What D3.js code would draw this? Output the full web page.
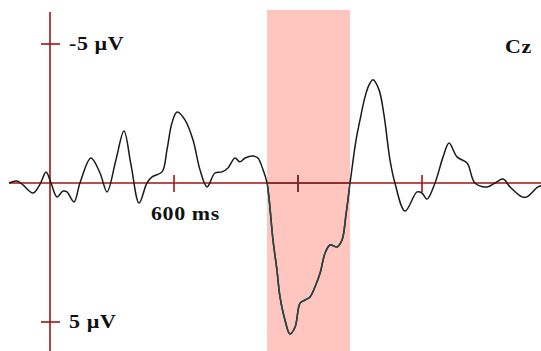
<!DOCTYPE html>
<html>
<head>
<meta charset="utf-8">
<script src="https://cdn.jsdelivr.net/npm/d3@7"></script>
<style>
  body { margin: 0; background: #fff; }
  text { font-family: "Liberation Serif", "Times New Roman", serif; font-weight: bold; fill: #111; letter-spacing: 0.5px; }
</style>
</head>
<body>
<svg id="erp"></svg>
<script>
// ERP waveform at Cz, time in ms, amplitude in microvolts (negative up)
var times = [-198, -160, -131, -82, -48, -19, 5, 34, 63, 82, 116, 145, 198, 242, 276, 319, 358, 392, 431, 469,
    494, 542, 566, 590, 615, 653, 692, 726, 760, 798, 832, 861, 895, 919, 944, 982, 1006, 1031, 1050, 1079,
    1098, 1113, 1137, 1161, 1186, 1210, 1234, 1258, 1282, 1307, 1331, 1355, 1389, 1413, 1432, 1452, 1481, 1500, 1524, 1544,
    1563, 1592, 1616, 1645, 1669, 1718, 1776, 1800, 1824, 1863, 1902, 1931, 1969, 2018, 2056, 2115, 2153, 2192, 2226, 2284,
    2308, 2361, 2376]
var amplitude = [0, -0.07, 0.07, 0.36, 0.04, -0.40, 0, 0.50, 0.29, 0.32, 0.68, 0, -0.90, -0.36, 0.32, -0.83, -1.87, -0.65, 0.72, 0,
    -0.22, -0.40, -1.19, -2.16, -2.55, -2.27, -1.55, -0.47, 0.14, -0.36, -0.40, -0.54, -0.90, -0.76, -0.90, -0.97, -0.90, -0.47, 0, 2.05,
    3.13, 4.10, 4.93, 5.43, 5.18, 4.32, 4.21, 4.10, 3.74, 3.24, 2.52, 2.23, 2.30, 2.05, 1.15, 0, -1.55, -2.27, -3.09, -3.53,
    -3.71, -3.35, -2.45, -0.83, 0, 1.01, 0.32, 0.36, 0.58, 0, -0.94, -1.44, -0.94, -0.72, 0, 0.14, 0, -0.14, 0.14, 0.50,
    0.50, 0.14, 0.11]

var timeTicks = [600, 1200, 1800]
var voltTicks = [-5, 5]
var voltLabels = ["-5 \u00b5V", "5 \u00b5V"]
var timeLabel = "600 ms"
var channel = "Cz"
var window_ms = [1050, 1452]

var dimensions = {
    width: 541,
    height: 351
}

var data = times.map(function (t, i) { return { t: t, v: amplitude[i] } })

var svg = d3.select("#erp")
    .attr("width", dimensions.width)
    .attr("height", dimensions.height)

var xScale = d3.scaleLinear()
    .domain([0, 600])
    .range([50, 174])

var yScale = d3.scaleLinear()
    .domain([-5, 5])
    .range([44, 322])

var axisColor = "#a01414"

// shaded time window
svg.append("rect")
    .attr("x", xScale(window_ms[0]))
    .attr("y", 10)
    .attr("width", xScale(window_ms[1]) - xScale(window_ms[0]))
    .attr("height", dimensions.height - 10)
    .attr("fill", "#ffc6c0")

svg.append("clipPath")
    .attr("id", "win")
    .append("rect")
    .attr("x", xScale(window_ms[0]))
    .attr("y", 10)
    .attr("width", xScale(window_ms[1]) - xScale(window_ms[0]))
    .attr("height", dimensions.height - 10)

// axes
function drawAxes(g, color) {
    g.append("line")
        .attr("x1", 9).attr("x2", dimensions.width)
        .attr("y1", yScale(0)).attr("y2", yScale(0))
        .attr("stroke", color).attr("stroke-width", 1.6)
    g.append("line")
        .attr("x1", xScale(0)).attr("x2", xScale(0))
        .attr("y1", 12).attr("y2", dimensions.height)
        .attr("stroke", color).attr("stroke-width", 1.6)
    g.selectAll(".xt")
        .data(timeTicks)
        .enter()
        .append("line")
        .attr("x1", d => xScale(d)).attr("x2", d => xScale(d))
        .attr("y1", yScale(0) - 8).attr("y2", yScale(0) + 9)
        .attr("stroke", color).attr("stroke-width", 1.6)
    g.selectAll(".yt")
        .data(voltTicks)
        .enter()
        .append("line")
        .attr("x1", xScale(0) - 9).attr("x2", xScale(0) + 10)
        .attr("y1", d => yScale(d)).attr("y2", d => yScale(d))
        .attr("stroke", color).attr("stroke-width", 1.6)
}

drawAxes(svg.append("g"), axisColor)

var line = d3.line()
    .x(d => xScale(d.t))
    .y(d => yScale(d.v))
    .curve(d3.curveCatmullRom.alpha(0.5))

svg.append("path")
    .datum(data)
    .attr("d", line)
    .attr("fill", "none")
    .attr("stroke", "#1a1a1a")
    .attr("stroke-width", 1.5)

// darker look of everything inside the window
var inside = svg.append("g").attr("clip-path", "url(#win)")
drawAxes(inside, "#7c2a2a")
inside.append("path")
    .datum(data)
    .attr("d", line)
    .attr("fill", "none")
    .attr("stroke", "#2a4646")
    .attr("stroke-width", 1.6)

// labels
svg.selectAll(".vl")
    .data(voltTicks)
    .enter()
    .append("text")
    .attr("x", 69)
    .attr("y", d => yScale(d) + 6)
    .attr("font-size", 18)
    .attr("transform", "translate(69,0) scale(1.22,1) translate(-69,0)")
    .text((d, i) => voltLabels[i])

svg.append("text")
    .attr("x", 151)
    .attr("y", 220)
    .attr("font-size", 18)
    .attr("transform", "translate(151,0) scale(1.22,1) translate(-151,0)")
    .text(timeLabel)

svg.append("text")
    .attr("x", 505)
    .attr("y", 53)
    .attr("font-size", 18)
    .attr("transform", "translate(505,0) scale(1.22,1) translate(-505,0)")
    .text(channel)
</script>
</body>
</html>
